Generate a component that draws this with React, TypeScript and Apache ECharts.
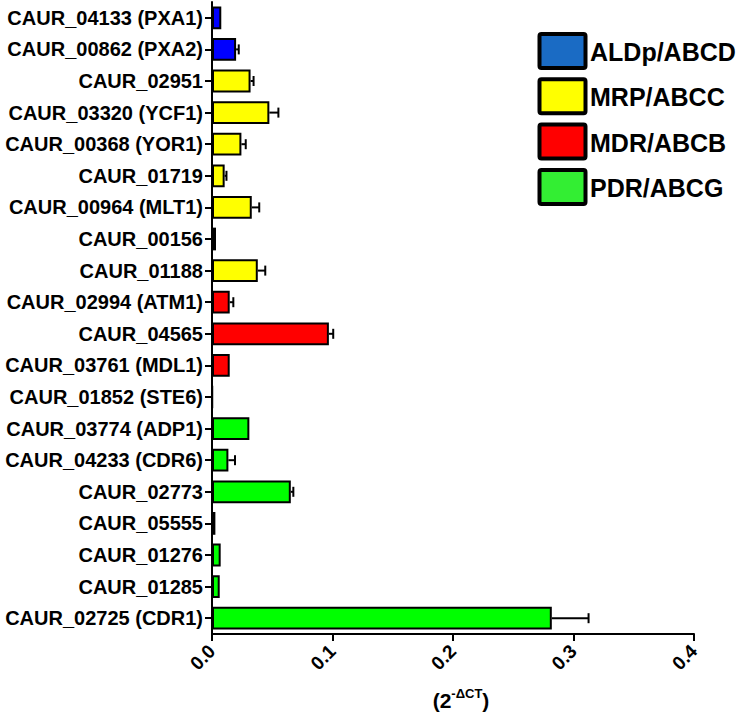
import React, { useEffect, useRef } from "react";
import * as echarts from "echarts";

const categories = [
  "CAUR_04133 (PXA1)",
  "CAUR_00862 (PXA2)",
  "CAUR_02951",
  "CAUR_03320 (YCF1)",
  "CAUR_00368 (YOR1)",
  "CAUR_01719",
  "CAUR_00964 (MLT1)",
  "CAUR_00156",
  "CAUR_01188",
  "CAUR_02994 (ATM1)",
  "CAUR_04565",
  "CAUR_03761 (MDL1)",
  "CAUR_01852 (STE6)",
  "CAUR_03774 (ADP1)",
  "CAUR_04233 (CDR6)",
  "CAUR_02773",
  "CAUR_05555",
  "CAUR_01276",
  "CAUR_01285",
  "CAUR_02725 (CDR1)",
];

const values = [
  0.0077, 0.02, 0.032, 0.0476, 0.0244, 0.0105, 0.033, 0.0033, 0.038, 0.0147,
  0.097, 0.0147, 0.0004, 0.031, 0.0136, 0.0654, 0.0028, 0.0072, 0.0064, 0.282,
];

const errors = [
  0.0005, 0.0022, 0.0025, 0.0075, 0.0036, 0.0015, 0.0062, 0.0004, 0.0062, 0.003,
  0.0036, 0.0, 0.0, 0.0, 0.0055, 0.0021, 0.0, 0.0, 0.0, 0.0305,
];

const groups = [
  "ALDp/ABCD", "ALDp/ABCD",
  "MRP/ABCC", "MRP/ABCC", "MRP/ABCC", "MRP/ABCC", "MRP/ABCC", "MRP/ABCC", "MRP/ABCC",
  "MDR/ABCB", "MDR/ABCB", "MDR/ABCB", "MDR/ABCB",
  "PDR/ABCG", "PDR/ABCG", "PDR/ABCG", "PDR/ABCG", "PDR/ABCG", "PDR/ABCG", "PDR/ABCG",
];

const legendNames = ["ALDp/ABCD", "MRP/ABCC", "MDR/ABCB", "PDR/ABCG"];
const barColors: Record<string, string> = {
  "ALDp/ABCD": "#0000FF",
  "MRP/ABCC": "#FFFF00",
  "MDR/ABCB": "#FF0000",
  "PDR/ABCG": "#00FF00",
};
const legendColors: Record<string, string> = {
  "ALDp/ABCD": "#1A6BC4",
  "MRP/ABCC": "#FFFF00",
  "MDR/ABCB": "#FF0000",
  "PDR/ABCG": "#33EE33",
};

const xTicks = [0, 0.1, 0.2, 0.3, 0.4];

const FONT = "'Liberation Sans', Arial, sans-serif";

export default function App() {
  const ref = useRef<HTMLDivElement>(null);
  useEffect(() => {
    if (!ref.current) return;
    document.body.style.margin = "0";
    const chart = echarts.init(ref.current, null, { renderer: "svg" });

    const barData = values.map((v, i) => ({
      value: v,
      itemStyle: { color: barColors[groups[i]] },
    }));
    const errData = values.map((v, i) => [v, i, v + errors[i]]);

    const legendGraphics: any[] = [];
    legendNames.forEach((name, k) => {
      const top = 34 + k * 45.3;
      legendGraphics.push({
        type: "rect",
        shape: { x: 539.5, y: top, width: 46, height: 34, r: 2 },
        style: { fill: legendColors[name], stroke: "#000", lineWidth: 4 },
      });
      legendGraphics.push({
        type: "text",
        x: 590,
        y: top + 18,
        style: {
          text: name,
          font: `bold 25px ${FONT}`,
          fill: "#000",
          verticalAlign: "middle",
          align: "left",
        },
      });
    });

    chart.setOption({
      animation: false,
      grid: { left: 212, right: 45, top: 2, bottom: 81, containLabel: false, outerBoundsMode: "none" },
      xAxis: {
        type: "value",
        min: xTicks[0],
        max: xTicks[xTicks.length - 1],
        interval: 0.1,
        splitLine: { show: false },
        axisLine: { show: true, lineStyle: { color: "#000", width: 2 } },
        axisTick: { show: true, length: 7, lineStyle: { color: "#000", width: 2 } },
        axisLabel: {
          rotate: 45,
          margin: 14,
          color: "#000",
          fontFamily: FONT,
          fontWeight: "bold",
          fontSize: 19,
          formatter: (v: number) => v.toFixed(1),
        },
        name: "{a|(2}{s|-ΔCT}{a|)}",
        nameLocation: "middle",
        nameGap: 53,
        nameTextStyle: {
          padding: [0, 0, 0, 16],
          rich: {
            a: { fontFamily: FONT, fontWeight: "bold", fontSize: 21, color: "#000", verticalAlign: "bottom", lineHeight: 24 },
            s: { fontFamily: FONT, fontWeight: "bold", fontSize: 13, color: "#000", verticalAlign: "top", lineHeight: 24, padding: [0, 0, 10, 0] },
          },
        },
      },
      yAxis: {
        type: "category",
        data: categories,
        inverse: true,
        axisLine: { show: true, lineStyle: { color: "#000", width: 2 } },
        axisTick: { show: true, length: 7, alignWithLabel: true, lineStyle: { color: "#000", width: 2 } },
        axisLabel: {
          margin: 9,
          color: "#000",
          fontFamily: FONT,
          fontWeight: "bold",
          fontSize: 20,
          interval: 0,
        },
      },
      series: [
        {
          type: "bar",
          data: barData,
          barCategoryGap: "28%",
          itemStyle: { borderColor: "#000", borderWidth: 2 },
          z: 2,
        },
        {
          type: "custom",
          data: errData,
          z: 3,
          renderItem: (params: any, api: any) => {
            const start = api.coord([api.value(0), api.value(1)]);
            const end = api.coord([api.value(2), api.value(1)]);
            if (end[0] - start[0] < 0.8) return { type: "group", children: [] };
            const h = 5;
            const style = { stroke: "#000", lineWidth: 2 };
            return {
              type: "group",
              children: [
                { type: "line", shape: { x1: start[0], y1: start[1], x2: end[0], y2: end[1] }, style },
                { type: "line", shape: { x1: end[0], y1: end[1] - h, x2: end[0], y2: end[1] + h }, style },
              ],
            };
          },
        },
      ],
      graphic: legendGraphics,
    });
    return () => chart.dispose();
  }, []);
  return <div ref={ref} style={{ width: 739, height: 715 }} />;
}
